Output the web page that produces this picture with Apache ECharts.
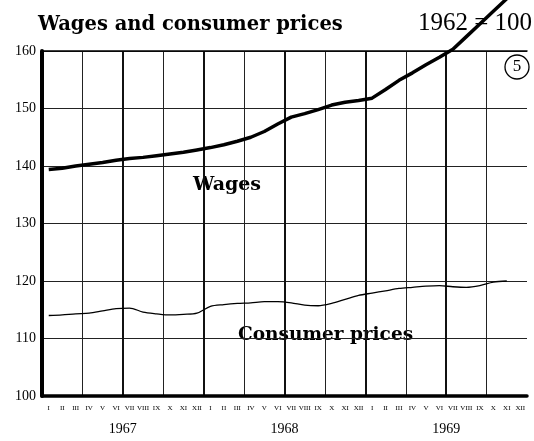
<!DOCTYPE html>
<html>
<head>
<meta charset="utf-8">
<script src="https://cdn.jsdelivr.net/npm/echarts@6/dist/echarts.min.js"></script>
<style>
  html, body { margin: 0; padding: 0; background: #fff; }
  #chart { width: 534px; height: 441px; }
</style>
</head>
<body>
<div id="chart"></div>
<script>
// month tick labels and years
var monthNames = ['I','II','III','IV','V','VI','VII','VIII','IX','X','XI','XII'];
var years = ['1967', '1968', '1969'];
// index values, 1962 = 100, Jan 1967 .. Nov 1969
var wages = [139.4, 139.6, 140.0, 140.3, 140.6, 141.0, 141.3, 141.5, 141.8, 142.1, 142.4, 142.8,
             143.2, 143.7, 144.3, 145.0, 146.0, 147.3, 148.5, 149.1, 149.8, 150.6, 151.1, 151.4,
             151.8, 153.3, 154.9, 156.2, 157.6, 158.9, 160.3, 162.5, 164.7, 166.9, 169.1];
var consumerPrices = [114.0, 114.1, 114.3, 114.4, 114.8, 115.2, 115.3, 114.6, 114.3, 114.1, 114.2, 114.4,
                      115.6, 115.9, 116.1, 116.2, 116.4, 116.4, 116.2, 115.8, 115.7, 116.1, 116.8, 117.5,
                      117.9, 118.3, 118.7, 118.9, 119.1, 119.2, 119.0, 118.9, 119.2, 119.8, 120.0];
var yTicks = [100, 110, 120, 130, 140, 150, 160];

var months = [];
years.forEach(function () { months = months.concat(monthNames); });

var serif = '"Liberation Serif", "DejaVu Serif", serif';
var boldSerif = '"DejaVu Serif", "Liberation Serif", serif';

// vertical lines: one per quarter, the closing edge on the right is left out
var quarterColors = [];
for (var q = 3; q < months.length; q += 3) quarterColors.push('#222');
quarterColors.push('rgba(0,0,0,0)');
var halfColors = [];
for (var h = 6; h < months.length; h += 6) halfColors.push('#111');
halfColors.push('rgba(0,0,0,0)');

var myChart = echarts.init(document.getElementById('chart'));
var option = {
    animation: false,
    backgroundColor: '#fff',
    grid: { left: 42, right: 7, top: 51, bottom: 45 },
    xAxis: [
        {
            type: 'category',
            position: 'bottom',
            data: months,
            boundaryGap: true,
            axisLine: { lineStyle: { color: '#000', width: 3.5 } },
            axisTick: { inside: true, length: 6, interval: 0, lineStyle: { color: '#222', width: 1 } },
            axisLabel: { interval: 0, color: '#000', fontSize: 7, fontFamily: serif, margin: 9 },
            splitLine: {
                show: true,
                interval: function (i) { return i % 3 === 0 && i > 0 && i < months.length; },
                lineStyle: { color: quarterColors, width: 1 }
            }
        },
        {
            type: 'category',
            position: 'top',
            data: months,
            boundaryGap: true,
            axisLine: { lineStyle: { color: '#000', width: 1.5 } },
            axisTick: { inside: true, length: 7, interval: 0, lineStyle: { color: '#222', width: 1 } },
            axisLabel: { show: false },
            splitLine: {
                show: true,
                interval: function (i) { return i % 6 === 0 && i > 0 && i < months.length; },
                lineStyle: { color: halfColors, width: 2 }
            }
        },
        {
            type: 'category',
            position: 'bottom',
            offset: 18,
            data: years,
            axisLine: { show: false },
            axisTick: { show: false },
            axisLabel: { color: '#000', fontSize: 14, fontFamily: serif }
        }
    ],
    yAxis: {
        type: 'value',
        min: yTicks[0],
        max: yTicks[yTicks.length - 1],
        interval: 10,
        axisLine: { show: true, lineStyle: { color: '#000', width: 4 } },
        axisTick: { show: false },
        axisLabel: { color: '#000', fontSize: 14, fontFamily: serif, margin: 6, padding: [0, 0, 10, 0] },
        splitLine: { lineStyle: { color: '#222', width: 1 } }
    },
    series: [
        {
            name: 'Wages',
            type: 'line',
            data: wages,
            showSymbol: false,
            clip: false,
            lineStyle: { color: '#000', width: 3.5 },
            z: 5
        },
        {
            name: 'Consumer prices',
            type: 'line',
            data: consumerPrices,
            showSymbol: false,
            smooth: 0.3,
            lineStyle: { color: '#000', width: 1.3 },
            z: 5
        }
    ],
    graphic: [
        { type: 'text', left: 38, top: 15,
          style: { text: 'Wages and consumer prices', font: 'bold 19.5px ' + boldSerif, fill: '#000' } },
        { type: 'text', right: 2, top: 11,
          style: { text: '1962 = 100', font: '25px ' + serif, fill: '#000' } },
        { type: 'text', left: 193, top: 176,
          style: { text: 'Wages', font: 'bold 19px ' + boldSerif, fill: '#000' } },
        { type: 'text', left: 238, top: 326,
          style: { text: 'Consumer prices', font: 'bold 18.5px ' + boldSerif, fill: '#000' } },
        { type: 'circle', shape: { cx: 517, cy: 67, r: 12 },
          style: { fill: '#fff', stroke: '#000', lineWidth: 1.3 } },
        { type: 'text', x: 517, y: 67,
          style: { text: '5', font: '17px ' + serif, fill: '#000', align: 'center', verticalAlign: 'middle' } }
    ]
};
myChart.setOption(option);
</script>
</body>
</html>
